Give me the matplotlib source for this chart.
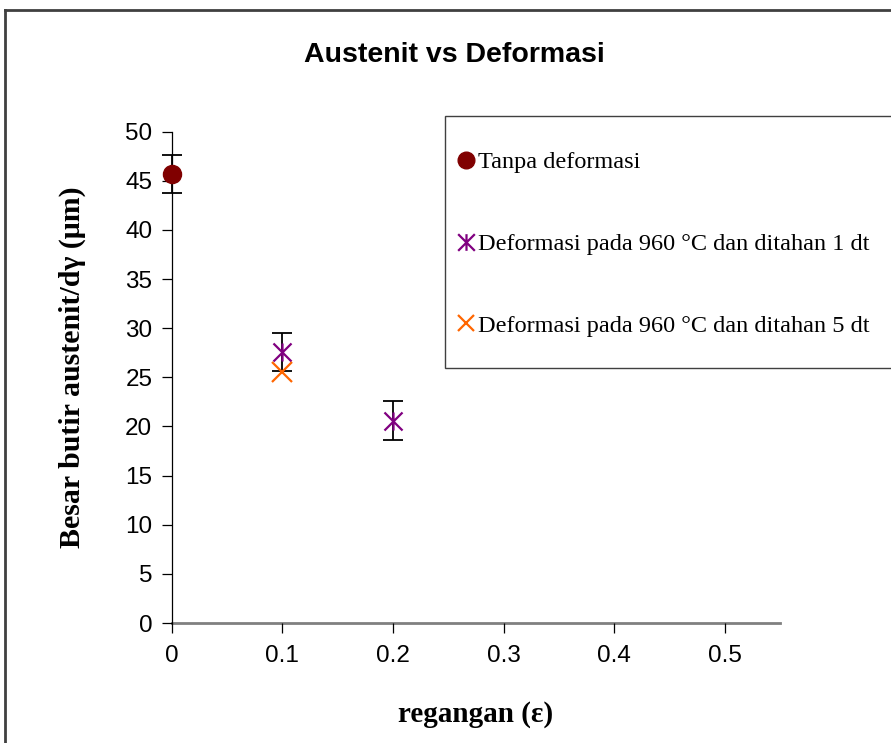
import numpy as np
import matplotlib.pyplot as plt
from matplotlib.path import Path
from matplotlib.lines import Line2D
from matplotlib.patches import Rectangle

# data
x_tanpa = [0]
y_tanpa = [45.7]
err_tanpa = [1.95]

x_def1 = [0.1, 0.2]
y_def1 = [27.6, 20.6]
err_def1 = [1.95, 1.95]

x_def5 = [0.1]
y_def5 = [25.55]

xticks = [0, 0.1, 0.2, 0.3, 0.4, 0.5]
yticks = [0, 5, 10, 15, 20, 25, 30, 35, 40, 45, 50]

labels = ['Tanpa deformasi',
          'Deformasi pada 960 °C dan ditahan 1 dt',
          'Deformasi pada 960 °C dan ditahan 5 dt']

# excel style star marker: x with a vertical line
star = Path([(-1, -1), (1, 1), (-1, 1), (1, -1), (0, -1), (0, 1)],
            [Path.MOVETO, Path.LINETO, Path.MOVETO, Path.LINETO, Path.MOVETO, Path.LINETO])

fig = plt.figure(figsize=(8.91, 7.43), dpi=100)
ax = fig.add_axes([0.1928, 0.1615, 0.6826, 0.6612])

ax.errorbar(x_tanpa, y_tanpa, yerr=err_tanpa, fmt='none', ecolor='black',
            elinewidth=1.3, capsize=7.5, capthick=1.3, zorder=2, clip_on=False)
ax.errorbar(x_def1, y_def1, yerr=err_def1, fmt='none', ecolor='black',
            elinewidth=1.3, capsize=7.5, capthick=1.3, zorder=2, clip_on=False)

ax.plot(x_tanpa, y_tanpa, 'o', color='#800000', markersize=13, zorder=3, clip_on=False)
ax.plot(x_def1, y_def1, linestyle='none', marker=star, color='#800080',
        markersize=13, markeredgewidth=1.6, zorder=3)
ax.plot(x_def5, y_def5, 'x', color='#FF6600', markersize=14,
        markeredgewidth=1.6, zorder=3)

ax.set_xlim(0, 0.55)
ax.set_ylim(0, 50)
ax.set_xticks(xticks)
ax.set_xticklabels(['0', '0.1', '0.2', '0.3', '0.4', '0.5'])
ax.set_yticks(yticks)

for s in ['top', 'right']:
    ax.spines[s].set_visible(False)
ax.spines['left'].set_color('black')
ax.spines['left'].set_linewidth(0.9)
ax.spines['bottom'].set_color('#808080')
ax.spines['bottom'].set_linewidth(2)
ax.spines['bottom'].set_zorder(1)

ax.tick_params(axis='both', direction='out', length=7, width=0.9, color='black',
               labelsize=17.5)
ax.tick_params(axis='x', pad=9)
ax.tick_params(axis='y', pad=7)
for lab in ax.get_xticklabels() + ax.get_yticklabels():
    lab.set_family('Liberation Sans')

serif = 'Liberation Serif'
ax.set_xlabel('regangan (ε)', family=serif, fontsize=21, fontweight='bold', labelpad=24)
ax.set_ylabel('Besar butir austenit/dγ (μm)', family=serif, fontsize=21.5,
              fontweight='bold')
ax.yaxis.set_label_coords(-0.141, 0.521)

fig.text(454 / 891, 1 - 55 / 743, 'Austenit vs Deformasi', family='Liberation Sans',
         fontsize=20.5, fontweight='bold', ha='center', va='center')

# legend box drawn separately so it runs off the right edge like the original
fig.add_artist(Rectangle((445 / 891, 1 - 368 / 743), 0.6, 252 / 743, transform=fig.transFigure,
                         facecolor='white', edgecolor='#404040', linewidth=1, zorder=4))

handles = [
    Line2D([], [], linestyle='none', marker='o', color='#800000', markersize=12),
    Line2D([], [], linestyle='none', marker=star, color='#800080', markersize=12,
           markeredgewidth=1.6),
    Line2D([], [], linestyle='none', marker='x', color='#FF6600', markersize=12,
           markeredgewidth=1.6),
]
leg = fig.legend(handles, labels, loc='upper left', bbox_to_anchor=(452 / 891, 1 - 144 / 743),
                 prop={'family': serif, 'size': 17.5}, frameon=False,
                 labelspacing=2.46, handlelength=0.53, handletextpad=0.23,
                 borderpad=0.3, borderaxespad=0)
leg.set_zorder(5)

# outer chart border (left and top edges visible)
fig.add_artist(Line2D([5 / 891, 5 / 891], [0, 1 - 10 / 743], color='#404040', linewidth=2))
fig.add_artist(Line2D([5 / 891, 1], [1 - 10 / 743, 1 - 10 / 743], color='#404040', linewidth=2))

fig.savefig('out.png', dpi=100)
